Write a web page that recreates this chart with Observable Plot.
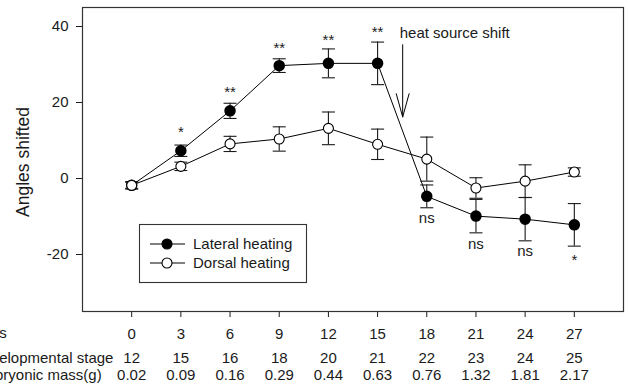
<!DOCTYPE html>
<html>
<head>
<meta charset="utf-8">
<script src="https://cdn.jsdelivr.net/npm/d3@7"></script>
<script src="https://cdn.jsdelivr.net/npm/@observablehq/plot@0.6"></script>
<style>
  html, body { margin: 0; padding: 0; background: white; }
  #chart { width: 629px; height: 385px; overflow: hidden; }
</style>
</head>
<body>
<div id="chart"></div>
<script>
// ---- data ----
const days = [0, 3, 6, 9, 12, 15, 18, 21, 24, 27];
const stage = [12, 15, 16, 18, 20, 21, 22, 23, 24, 25];
const mass = ["0.02", "0.09", "0.16", "0.29", "0.44", "0.63", "0.76", "1.32", "1.81", "2.17"];
const lateral = [-1.8, 7.3, 17.8, 29.7, 30.3, 30.3, -4.7, -9.9, -10.7, -12.2];
const lateralErr = [1.0, 1.5, 2.0, 1.8, 3.8, 5.6, 3.0, 4.4, 5.7, 5.6];
const dorsal = [-1.8, 3.2, 9.1, 10.4, 13.2, 9.0, 5.1, -2.5, -0.7, 1.7];
const dorsalErr = [0.8, 1.1, 2.0, 3.2, 4.3, 4.0, 5.8, 2.7, 4.3, 1.1];
const sig = ["", "*", "**", "**", "**", "**", "ns", "ns", "ns", "*"];
const sigY = [null, 12.3, 22.6, 34.2, 36.5, 38.4, -10.5, -17.3, -19.2, -21.5];
const yTicks = [-20, 0, 20, 40];
const rowLabels = ["Days", "Developmental stage", "Embryonic mass(g)"];
const seriesNames = ["Lateral heating", "Dorsal heating"];
const yLabel = "Angles shifted";
const shiftLabel = "heat source shift";
const shiftX = 16.53, shiftLabelX = 16.35, shiftLabelY = 38.2, shiftY1 = 35.2, shiftY2 = 16.2;

// ---- tables ----
const latRows = days.map((d, i) => ({day: d, v: lateral[i], lo: lateral[i] - lateralErr[i], hi: lateral[i] + lateralErr[i]}));
const dorRows = days.map((d, i) => ({day: d, v: dorsal[i], lo: dorsal[i] - dorsalErr[i], hi: dorsal[i] + dorsalErr[i]}));
const sigRows = days.map((d, i) => ({day: d, y: sigY[i], label: sig[i]})).filter(d => d.label);
const bottomRows = days.map((d, i) => ({day: d, stage: String(stage[i]), mass: mass[i]}));

const cap = {draw(ctx, size) { const w = Math.sqrt(size / Math.PI); ctx.moveTo(-w, 0); ctx.lineTo(w, 0); }};
const font = "Arial, 'Liberation Sans', sans-serif";
const ink = "#1a1a1a";

const errMarks = rows => [
  Plot.ruleX(rows, {x: "day", y1: "lo", y2: "hi", stroke: ink, strokeWidth: 1.1}),
  Plot.dot(rows, {x: "day", y: "hi", symbol: cap, r: 6.5, fill: "none", stroke: ink, strokeWidth: 1.1}),
  Plot.dot(rows, {x: "day", y: "lo", symbol: cap, r: 6.5, fill: "none", stroke: ink, strokeWidth: 1.1})
];

const rowText = (label, dy) => Plot.text([label], {frameAnchor: "bottom-left", text: d => d, textAnchor: "start", lineAnchor: "middle", dx: -110, dy, fill: ink});

const chart = Plot.plot({
  width: 629,
  height: 385,
  marginLeft: 82,
  marginRight: 6,
  marginTop: 7,
  marginBottom: 74,
  style: {fontFamily: font, fontSize: "15px", color: ink, background: "white", overflow: "visible"},
  x: {domain: [-3, 30], ticks: days, tickSize: 6, tickPadding: 11, label: null, tickFormat: d => String(d)},
  y: {domain: [-35, 45], ticks: yTicks, tickSize: 6, tickPadding: 8, label: null, tickFormat: d => String(d)},
  marks: [
    Plot.frame({stroke: "#333", strokeWidth: 1.2}),
    Plot.line(latRows, {x: "day", y: "v", stroke: "black", strokeWidth: 1}),
    Plot.line(dorRows, {x: "day", y: "v", stroke: "black", strokeWidth: 1}),
    ...errMarks(latRows),
    ...errMarks(dorRows),
    Plot.dot(latRows, {x: "day", y: "v", r: 5, fill: "black", stroke: "black"}),
    Plot.dot(dorRows, {x: "day", y: "v", r: 5, fill: "white", stroke: "black", strokeWidth: 1.1}),
    Plot.text(sigRows, {x: "day", y: "y", text: "label", fontSize: 15, fill: ink}),
    Plot.text([shiftLabel], {x: shiftLabelX, y: shiftLabelY, text: d => d, textAnchor: "start", fontSize: 15, fill: ink}),
    Plot.arrow([0], {x1: shiftX, x2: shiftX, y1: shiftY1, y2: shiftY2, stroke: "black", strokeWidth: 1, headLength: 40, headAngle: 31}),
    Plot.text([yLabel], {frameAnchor: "left", text: d => d, rotate: -90, textAnchor: "middle", lineAnchor: "middle", dx: -59, dy: 2.5, fontSize: 17.5, fill: ink}),
    Plot.text(bottomRows, {x: "day", text: "stage", frameAnchor: "bottom", lineAnchor: "middle", dy: 47, fill: ink}),
    Plot.text(bottomRows, {x: "day", text: "mass", frameAnchor: "bottom", lineAnchor: "middle", dy: 64, fill: ink}),
    rowText(rowLabels[0], 22),
    rowText(rowLabels[1], 47),
    rowText(rowLabels[2], 64)
  ]
});
document.getElementById("chart").append(chart);

// ---- legend (inside the plot area) ----
const svg = d3.select(chart);
const lg = svg.append("g").attr("font-family", font).attr("font-size", 15).attr("text-anchor", "start");
lg.append("rect").attr("x", 139.5).attr("y", 224.5).attr("width", 167).attr("height", 58)
  .attr("fill", "white").attr("stroke", "#333").attr("stroke-width", 1.1);
seriesNames.forEach((name, i) => {
  const yy = 244 + i * 19;
  lg.append("line").attr("x1", 150).attr("x2", 185).attr("y1", yy).attr("y2", yy).attr("stroke", "black");
  lg.append("circle").attr("cx", 167).attr("cy", yy).attr("r", 5)
    .attr("fill", i === 0 ? "black" : "white").attr("stroke", "black").attr("stroke-width", 1.1);
  lg.append("text").attr("x", 193).attr("y", yy).attr("dy", "0.35em").attr("fill", ink).text(name);
});
</script>
</body>
</html>
